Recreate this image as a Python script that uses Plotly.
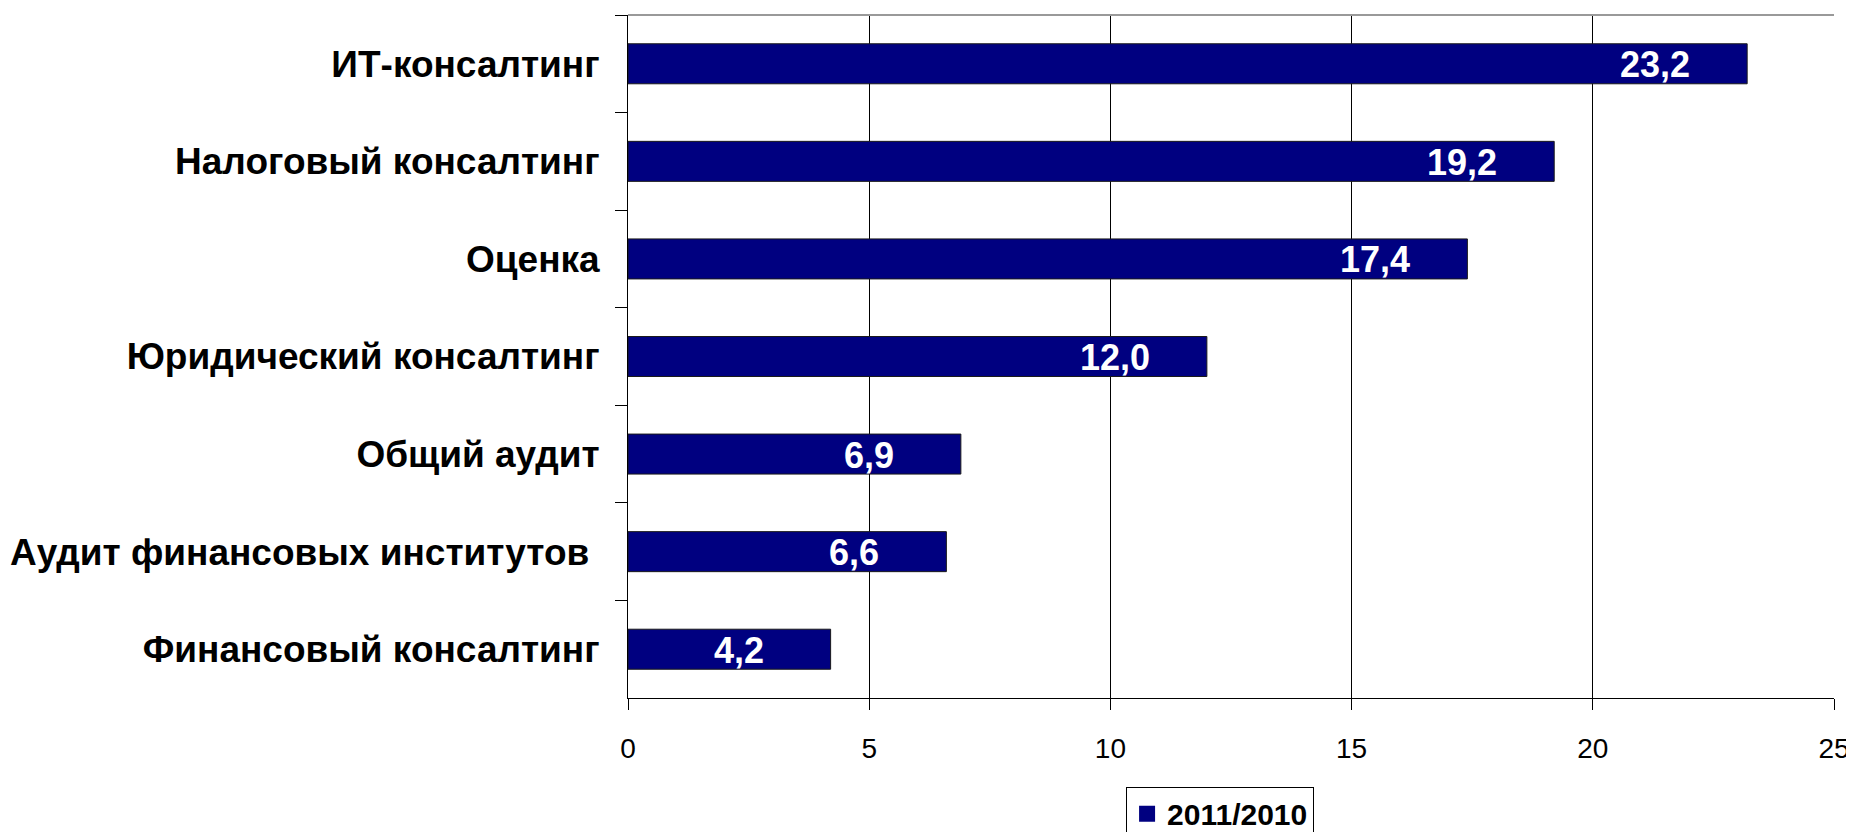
import plotly.graph_objects as go

categories = [
    "ИТ-консалтинг",
    "Налоговый консалтинг",
    "Оценка",
    "Юридический консалтинг",
    "Общий аудит",
    "Аудит финансовых институтов ",
    "Финансовый консалтинг",
]
values = [23.2, 19.2, 17.4, 12.0, 6.9, 6.6, 4.2]
value_labels = ["23,2", "19,2", "17,4", "12,0", "6,9", "6,6", "4,2"]
series_name = "2011/2010"
x_ticks = [0, 5, 10, 15, 20, 25]

NAVY = "#000080"
FONT = "Liberation Sans, Arial, sans-serif"

fig = go.Figure()
fig.add_trace(go.Bar(
    x=values,
    y=categories,
    orientation="h",
    width=0.41,
    name=series_name,
    marker=dict(color=NAVY, line=dict(color="#1a1a1a", width=1)),
    showlegend=False,
))
# legend entry with a larger square swatch
fig.add_trace(go.Scatter(
    x=[None], y=[None], mode="markers", name=series_name,
    marker=dict(symbol="square", size=22, color=NAVY),
    showlegend=True,
))

for v, c, t in zip(values, categories, value_labels):
    fig.add_annotation(
        x=v, y=c, text=t, showarrow=False,
        xanchor="center", yanchor="middle", xshift=-92, yshift=-1,
        font=dict(color="white", size=36, family=FONT, weight="bold"),
    )

fig.update_layout(
    width=1846, height=824,
    margin=dict(l=620, r=20, t=7, b=134, autoexpand=False),
    paper_bgcolor="white", plot_bgcolor="white",
    showlegend=True,
    legend=dict(
        x=0.413, y=-0.13, xanchor="left", yanchor="top",
        bordercolor="black", borderwidth=1,
        font=dict(size=30, family=FONT, color="black", weight="bold"),
        itemwidth=30, tracegroupgap=0,
    ),
    bargap=0.59,
)

fig.update_xaxes(
    range=[0, 25], tickvals=x_ticks, ticktext=[str(t) for t in x_ticks],
    showgrid=True, gridcolor="black", gridwidth=1,
    showline=True, linecolor="black", linewidth=1,
    ticks="outside", ticklen=11, tickcolor="black",
    tickfont=dict(size=28, family=FONT, color="black"),
    ticklabelstandoff=14, ticklabeloverflow="allow",
    zeroline=False, mirror=False, automargin=False,
)
fig.update_yaxes(
    autorange="reversed",
    showline=True, linecolor="black", linewidth=1,
    ticks="outside", ticklen=12, tickcolor="black", tickson="boundaries",
    tickfont=dict(size=37, family=FONT, color="black", weight="bold"),
    ticklabelstandoff=20,
    showgrid=False, automargin=False,
)

# top border line (gray)
fig.add_shape(type="line", xref="paper", yref="paper", x0=0, x1=1, y0=1, y1=1,
              line=dict(color="#999999", width=2))

fig.write_html("out.html")
